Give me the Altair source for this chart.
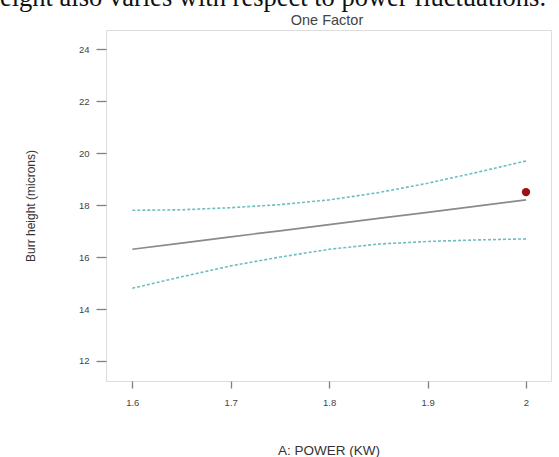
import altair as alt
import pandas as pd

# Values
power = [1.60, 1.65, 1.70, 1.75, 1.80, 1.85, 1.90, 1.95, 2.00]
burr_mean = [16.30, 16.54, 16.78, 17.01, 17.25, 17.49, 17.72, 17.96, 18.20]
burr_upper = [17.80, 17.82, 17.90, 18.02, 18.20, 18.48, 18.84, 19.26, 19.70]
burr_lower = [14.80, 15.24, 15.66, 16.00, 16.30, 16.50, 16.60, 16.66, 16.70]
obs_power = [2.0]
obs_burr = [18.5]
x_ticks = [1.6, 1.7, 1.8, 1.9, 2.0]
y_ticks = [12, 14, 16, 18, 20, 22, 24]
title_text = ["One Factor"]
caption_text = ["eight also varies with respect to power fluctuations."]

curves = pd.DataFrame({"power": power, "mean": burr_mean,
                       "upper": burr_upper, "lower": burr_lower})
obs = pd.DataFrame({"power": obs_power, "burr": obs_burr})

FONT = "Liberation Sans"
xscale = alt.Scale(domain=[1.5733, 2.0254], nice=False, zero=False)
yscale = alt.Scale(domain=[11.23, 24.74], nice=False, zero=False)

xaxis = alt.Axis(values=x_ticks, format="~g", title="A: POWER (KW)",
                 grid=False, domain=False, tickSize=7, tickColor="#808080",
                 tickWidth=1.3, labelFontSize=9.5, labelColor="#444",
                 labelFont=FONT, labelPadding=9, titleFont=FONT,
                 titleFontSize=13.5, titleFontWeight="normal",
                 titleColor="#333", titleY=69, titleBaseline="middle")
yaxis = alt.Axis(values=y_ticks, title="Burr height (microns)",
                 grid=False, domain=False, tickSize=10, tickColor="#808080",
                 tickWidth=1.3, labelFontSize=9.5, labelColor="#444",
                 labelFont=FONT, labelPadding=7, titleFont=FONT,
                 titleFontSize=12, titleFontWeight="normal",
                 titleColor="#333", titleX=-76, titleBaseline="middle")

base = alt.Chart(curves)
mean_line = base.mark_line(color="#8a8a8a", strokeWidth=1.7).encode(
    x=alt.X("power:Q", scale=xscale, axis=xaxis),
    y=alt.Y("mean:Q", scale=yscale, axis=yaxis),
)
upper_line = base.mark_line(color="#6fbfbf", strokeWidth=1.6,
                            strokeDash=[3, 2]).encode(
    x=alt.X("power:Q", scale=xscale), y=alt.Y("upper:Q", scale=yscale))
lower_line = base.mark_line(color="#6fbfbf", strokeWidth=1.6,
                            strokeDash=[3, 2]).encode(
    x=alt.X("power:Q", scale=xscale), y=alt.Y("lower:Q", scale=yscale))
point = alt.Chart(obs).mark_point(filled=True, color="#9e0f0f",
                                  size=70, opacity=1).encode(
    x=alt.X("power:Q", scale=xscale), y=alt.Y("burr:Q", scale=yscale))

title = alt.Chart(pd.DataFrame({"t": title_text})).mark_text(
    align="center", baseline="alphabetic", font=FONT, fontSize=14.5,
    color="#444").encode(x=alt.value(221), y=alt.value(-5), text="t:N")

caption = alt.Chart(pd.DataFrame({"t": caption_text})).mark_text(
    align="left", baseline="alphabetic", font="Liberation Serif",
    fontSize=26.5, color="#111").encode(
    x=alt.value(-106), y=alt.value(-24), text="t:N")

chart = alt.layer(lower_line, upper_line, mean_line, point, title, caption).properties(
    width=445, height=351,
    padding={"left": 106, "top": 30, "right": 8, "bottom": 76},
    autosize=alt.AutoSizeParams(type="none"),
).configure_view(stroke="#a0a0a0", strokeWidth=2).configure(background="white")

chart.save("out.html", embed_options={"renderer": "svg", "actions": False})
